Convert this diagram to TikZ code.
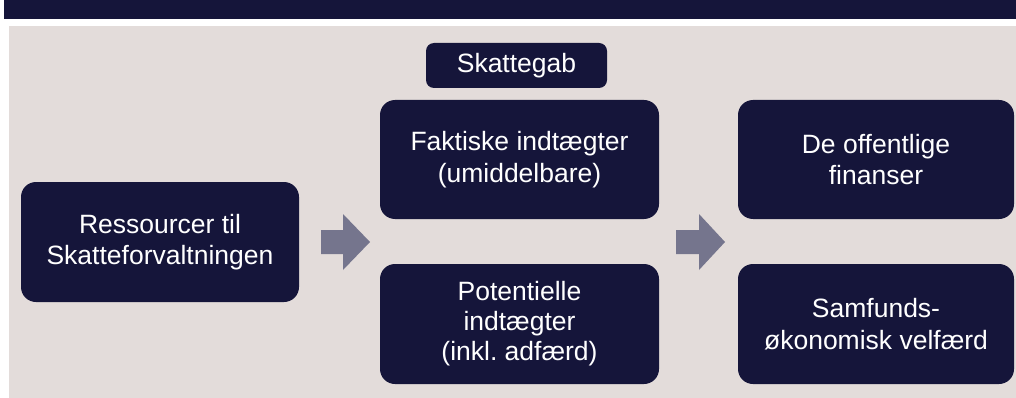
\documentclass[tikz,border=0pt]{standalone}
\usepackage{fontspec}
\setmainfont{Liberation Sans}
\frenchspacing
\definecolor{navy}{HTML}{15153A}
\definecolor{panel}{HTML}{E3DCDA}
\definecolor{arrowgray}{HTML}{75758D}
\begin{document}
\begin{tikzpicture}[x=1pt,y=-1pt,
  box/.style={fill=navy,rounded corners=15pt},
  label/.style={text=white,align=center,inner sep=0pt,font=\fontsize{26.5}{31.5}\selectfont},
  fatarrow/.style={fill=arrowgray,draw=none}]
\useasboundingbox (0,0) rectangle (1016,398);
\fill[white] (0,0) rectangle (1016,398);
\fill[navy] (4,0) rectangle (1016,19);
\fill[panel] (9,26) rectangle (1016,398);
% boxes
\path[box] (21,182) rectangle (299,302);
\node[label] (res) at (160,242) {Ressourcer til\\Skatteforvaltningen};
\path[box] (380,100) rectangle (659,219);
\node[label] (fak) at (519.5,159.5) {Faktiske indtægter\\(umiddelbare)};
\path[box] (380,264) rectangle (659,384);
\node[label,font=\fontsize{26.5}{30}\selectfont] (pot) at (519.5,324) {Potentielle\\indtægter\\(inkl. adfærd)};
\path[box] (738,100) rectangle (1014,219);
\node[label] (off) at (876,159.5) {De offentlige\\finanser};
\path[box] (738,264) rectangle (1014,384);
\node[label] (sam) at (876,324) {Samfunds-\\økonomisk velfærd};
\path[box,rounded corners=8pt] (426,43) rectangle (607,88);
\node[label] (gab) at (516.5,65.5) {Skattegab};
% arrows
\fill[fatarrow] (321,230) -- (343,230) -- (343,214) -- (370,242) -- (343,270) -- (343,254) -- (321,254) -- cycle;
\fill[fatarrow] (676,230) -- (699,230) -- (699,214) -- (725,242) -- (699,270) -- (699,254) -- (676,254) -- cycle;
\end{tikzpicture}
\end{document}
